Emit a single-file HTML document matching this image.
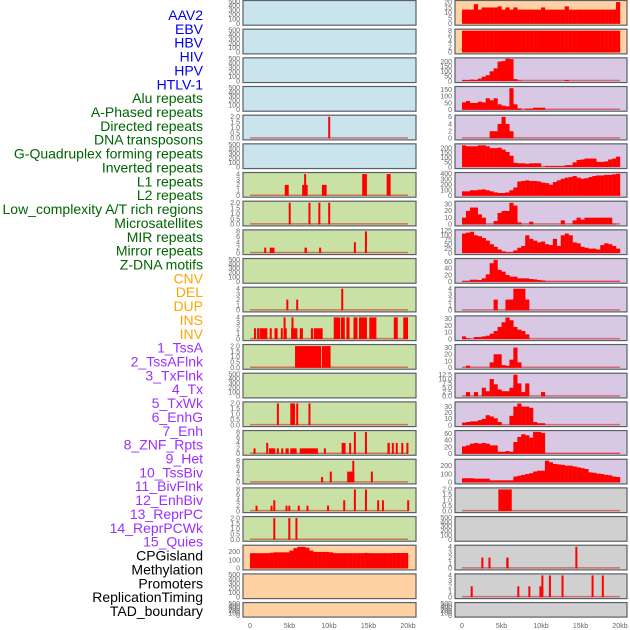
<!DOCTYPE html>
<html><head><meta charset="utf-8"><style>
html,body{margin:0;padding:0;background:#fff;}
svg{display:block;font-family:"Liberation Sans",sans-serif;}
</style></head><body>
<svg id="chart" width="630" height="630" viewBox="0 0 630 630" xmlns="http://www.w3.org/2000/svg"></svg>
<script>
// ---- category labels ----
const labelNames = ["AAV2","EBV","HBV","HIV","HPV","HTLV-1","Alu repeats","A-Phased repeats","Directed repeats","DNA transposons","G-Quadruplex forming repeats","Inverted repeats","L1 repeats","L2 repeats","Low_complexity A/T rich regions","Microsatellites","MIR repeats","Mirror repeats","Z-DNA motifs","CNV","DEL","DUP","INS","INV","1_TssA","2_TssAFlnk","3_TxFlnk","4_Tx","5_TxWk","6_EnhG","7_Enh","8_ZNF_Rpts","9_Het","10_TssBiv","11_BivFlnk","12_EnhBiv","13_ReprPC","14_ReprPCWk","15_Quies","CPGisland","Methylation","Promoters","ReplicationTiming","TAD_boundary"];
const labelGroups = [0,0,0,0,0,0,1,1,1,1,1,1,1,1,1,1,1,1,1,2,2,2,2,2,3,3,3,3,3,3,3,3,3,3,3,3,3,3,3,4,4,4,4,4];
const xTickLabels = ["0","5kb","10kb","15kb","20kb"];
const xTickValues = [0,5,10,15,20];
const emptyTicks = [0,100,200,300,400,500];

// ---- left column panels: sparse spikes [startKb,endKb,height] ----
const lSpk4 = [[9.9,10.1,2]];
const lSpk6 = [[4.4,4.9,2],[6.6,7.3,2],[6.85,7.0,4],[9.1,9.7,2],[14.2,14.8,4],[17.3,17.8,4]];
const lSpk7 = [[4.9,5.05,2],[7.4,7.6,2],[8.65,8.8,2],[9.9,10.1,2]];
const lSpk8 = [[1.8,1.95,2],[2.5,3.1,2],[6.9,7.2,2],[8.75,8.9,2],[13.15,13.3,4],[14.55,14.7,8]];
const lSpk10 = [[4.6,4.8,2],[5.85,6.0,2],[11.55,11.7,4]];
const lSpk11 = [[0.5,0.7,2],[0.9,1.1,2],[1.2,2.2,2],[2.5,2.7,2],[3.1,3.5,2],[3.9,4.1,2],[4.25,4.4,4],[4.4,4.6,2],[5.2,6.0,2],[5.25,5.45,4],[6.3,6.7,2],[7.7,8.0,2],[8.1,9.2,2],[10.6,11.4,4],[11.5,12.0,4],[12.2,12.6,4],[13.1,13.6,4],[13.8,14.8,4],[15.1,16.0,4],[18.2,18.7,4],[19.4,20.0,4]];
const lSpk12 = [[5.7,9.0,2],[9.1,10.2,2]];
const lSpk14 = [[3.4,3.6,2],[5.1,5.7,2],[5.85,6.0,2],[7.4,7.6,2]];
const lSpk15 = [[0.45,0.6,2],[2.05,2.2,4],[2.4,3.2,2],[3.4,3.6,2],[3.95,4.1,2],[4.5,4.9,2],[5.1,5.9,2],[6.3,8.6,2],[9.35,9.5,2],[11.6,12.1,4],[12.55,12.7,4],[13.15,13.3,8],[14.55,14.7,8],[17.4,17.7,4],[17.95,18.1,4],[18.45,18.65,4],[19.15,19.3,4],[19.8,19.95,4]];
const lSpk16 = [[9.0,9.25,2],[10.1,10.3,4],[12.3,13.2,4],[12.95,13.15,8],[15.3,15.45,4]];
const lSpk17 = [[0.7,0.85,2],[2.6,2.75,2],[2.95,3.1,4],[4.5,4.65,2],[4.85,5.0,2],[6.05,6.25,2],[7.15,7.3,2],[9.75,9.9,2],[11.8,12.0,4],[13.15,13.3,8],[14.55,14.7,8],[16.1,16.3,4],[16.7,16.85,4],[19.9,20.05,4]];
const lSpk18 = [[2.95,3.1,2],[4.85,5.0,2],[5.75,5.9,2]];
// CpG island density, 40 bins of 0.5kb
const lBin19 = [180,180,180,180,180,185,190,190,190,190,210,240,255,255,245,210,195,195,195,195,190,180,180,180,180,180,180,180,180,183,180,180,180,180,180,180,182,182,182,182];

// ---- right column panels: dense bins (0.5kb each) ----
const rBin0 = [13,13,13,18,13,15,15,15,15,16,13,15,13,15,13,13,13,13,13,13,15,13,13,13,13,13,16,13,13,13,13,13,13,13,13,13,13,13,13,20];
const rBin1 = [8,8,8,8,8,8,8,8,8,8,8,8,8,8,8,8,8,8,8,8,8,8,8,8,8,8,8,8,8,8,8,8,8,8,8,8,8,8,8,8];
const rBin2 = [10,10,15,12,25,45,60,100,130,200,205,230,225,20,5,0,0,0,0,0,0,0,0,0,0,0,10,0,0,0,0,0,0,0,0,0,0,0,0,0];
const rBin3 = [55,65,50,50,60,55,85,70,85,40,30,25,160,40,10,0,8,8,15,15,15,0,0,0,0,0,0,0,0,0,0,0,0,0,0,0,0,0,0,0];
const rBin4 = [0,0,0,0,0,0,0,2,2,4,6,4,2,0,0,0,0,0,0,0,0,0,0,0,0,0,0,0,0,0,0,0,0,0,0,0,0,0,0,0];
const rBin5 = [230,220,220,220,230,230,220,200,200,205,185,160,120,45,40,40,35,40,40,40,0,10,10,10,10,10,20,20,50,75,80,90,90,90,55,55,60,80,90,110];
const rBin6 = [80,80,100,100,110,115,100,80,60,50,50,60,100,150,260,270,280,270,270,260,240,230,200,250,280,310,330,340,360,330,310,320,340,360,370,370,380,380,390,400];
const rBin7 = [10,20,25,25,15,10,0,0,5,17,20,20,32,28,3,0,0,4,0,0,0,0,0,0,0,6,0,0,6,10,7,10,10,10,10,10,10,10,1,0];
const rBin8 = [110,115,120,100,95,85,70,50,35,20,10,5,5,15,30,40,100,80,70,60,65,50,45,80,40,100,110,100,60,55,35,30,25,25,20,45,55,50,40,25];
const rBin9 = [2,2,6,6,5,10,22,55,65,35,30,20,15,15,10,10,10,8,7,5,4,1,1,1,1,1,1,1,1,1,1,1,1,1,1,1,1,1,1,1];
const rBin10 = [0,0,0,0,0,0,0,0,2,0,0,2,2,4,4,4,2,0,0,0,0,0,0,0,0,0,0,0,0,0,0,0,0,0,0,0,0,0,0,0];
const rBin11 = [4,1,0,3,3,4,5,8,12,18,25,32,28,18,14,12,7,0,0,0,0,0,0,0,0,0,0,0,0,0,0,0,0,0,0,0,0,0,0,0];
const rBin12 = [0,3,0,0,0,0,0,8,20,20,4,3,12,30,8,0,0,0,0,0,0,0,0,0,0,0,0,0,0,0,0,0,0,0,0,0,0,0,0,0];
const rBin13 = [0,2.5,0,2.5,0,5,3,10,7,4,3,3,5,12.5,7.5,2.5,7.5,0,0,0,2.5,0,0,0,0,0,0,0,0,0,0,0,0,0,0,0,0,0,0];
const rBin14 = [4,5,6,6,8,10,16,14,11,5,0,0,15,30,35,30,30,28,5,3,3,0,0,0,0,0,0,0,0,0,0,0,0,0,0,0,0,0,0,0];
const rBin15 = [22,25,30,32,30,32,30,25,25,6,6,8,6,35,50,58,55,48,65,65,62,1,1,1,1,1,1,1,1,1,1,1,1,1,1,1,1,1,1,1];
const rBin16 = [50,50,50,45,45,45,45,25,25,25,25,25,25,70,80,90,100,110,130,140,140,260,240,220,215,210,200,200,190,180,170,160,120,115,105,100,90,85,70,65];
const rSpk17 = [[4.6,6.3,2]];
const rSpk19 = [[2.45,2.6,2],[3.35,3.5,2],[5.6,5.9,2],[14.35,14.5,4]];
const rSpk20 = [[1.1,1.3,2],[7.0,7.2,2],[8.4,8.6,2],[9.8,9.95,2],[10.05,10.25,4],[11.0,11.2,4],[12.6,12.8,4],[16.4,16.65,4],[17.7,17.95,4]];

// ---- panel configuration (axis ranges, backgrounds) ----
const leftBg = ["#c9e4ec","#c9e4ec","#c9e4ec","#c9e4ec","#c9e4ec","#c9e4ec","#c9e1a5","#c9e1a5","#c9e1a5","#c9e1a5","#c9e1a5","#c9e1a5","#c9e1a5","#c9e1a5","#c9e1a5","#c9e1a5","#c9e1a5","#c9e1a5","#c9e1a5","#ffd1a3","#ffd1a3","#ffd1a3"];
const rightBg = ["#ffd1a3","#ffd1a3","#d9c8e4","#d9c8e4","#d9c8e4","#d9c8e4","#d9c8e4","#d9c8e4","#d9c8e4","#d9c8e4","#d9c8e4","#d9c8e4","#d9c8e4","#d9c8e4","#d9c8e4","#d9c8e4","#d9c8e4","#d0d0d0","#d0d0d0","#d0d0d0","#d0d0d0","#d0d0d0"];
const t4 = [0,1,2,3,4], t2 = [0,0.5,1.0,1.5,2.0], t8 = [0,2,4,6,8];
const leftSpec = [
 {t:emptyTicks},{t:emptyTicks},{t:emptyTicks},{t:emptyTicks},
 {t:t2,max:2.05,spk:lSpk4,fmt:1},{t:emptyTicks},
 {t:t4,max:4.1,spk:lSpk6},{t:t2,max:2.05,spk:lSpk7,fmt:1},{t:t8,max:8.2,spk:lSpk8},
 {t:emptyTicks},{t:t4,max:4.1,spk:lSpk10},{t:t4,max:4.1,spk:lSpk11},
 {t:t2,max:2.05,spk:lSpk12,fmt:1},{t:emptyTicks},{t:t2,max:2.05,spk:lSpk14,fmt:1},
 {t:t8,max:8.2,spk:lSpk15},{t:t8,max:8.2,spk:lSpk16},{t:t8,max:8.2,spk:lSpk17},
 {t:t2,max:2.05,spk:lSpk18,fmt:1},{t:[0,100,200],max:262,bin:lBin19},
 {t:emptyTicks},{t:emptyTicks}
];
const rightSpec = [
 {t:[0,5,10,15,20],max:20.5,bin:rBin0},{t:t8,max:8.2,bin:rBin1},
 {t:[0,50,100,150,200],max:228,bin:rBin2},{t:[0,50,100,150],max:165,bin:rBin3},
 {t:[0,2,4,6],max:6.2,bin:rBin4},{t:[0,50,100,150,200],max:235,bin:rBin5},
 {t:[0,100,200,300,400],max:405,bin:rBin6},{t:[0,10,20,30],max:33,bin:rBin7},
 {t:[0,25,50,75,100,125],max:125,bin:rBin8},{t:[0,20,40,60],max:66,bin:rBin9},
 {t:t4,max:4.1,bin:rBin10},{t:[0,10,20,30],max:33,bin:rBin11},
 {t:[0,10,20,30],max:33,bin:rBin12},{t:[0,2.5,5,7.5,10,12.5],max:12.8,bin:rBin13,fmt:1},
 {t:[0,10,20,30],max:36,bin:rBin14},{t:[0,20,40,60],max:66,bin:rBin15},
 {t:[0,100,200],max:265,bin:rBin16},{t:t2,max:2.05,spk:rSpk17,fmt:1},
 {t:emptyTicks},{t:t4,max:4.1,spk:rSpk19},{t:t4,max:4.1,spk:rSpk20},{t:emptyTicks}
];

const NS = "http://www.w3.org/2000/svg";
const svg = document.getElementById("chart");
function mk(tag, attrs, parent){const e=document.createElementNS(NS,tag);for(const k in attrs)e.setAttribute(k,attrs[k]);(parent||svg).appendChild(e);return e;}

// labels
const groupColors = ["#0000ee","#006400","#ffa500","#9b30ff","#000000"];
labelNames.forEach((n,i)=>{
  const t = mk("text",{x:203,y:15+13.86*i+5,"text-anchor":"end","font-size":"14",fill:groupColors[labelGroups[i]]});
  
  
  t.textContent = n;
});

function panelTop(i){return i*28.67;}
function panelH(i){return i===21?14.5:24.7;}

function drawPanel(col, i, spec, bg){
  const px = col===0?243:455, pw = col===0?173:172;
  const x0 = col===0?250:462;
  const xs = kb => x0 + kb/20*158;
  const top = panelTop(i), h = panelH(i);
  const g = mk("g",{});
  
  
  const r = mk("rect",{x:px,y:top+0.5,width:pw,height:h,fill:bg,stroke:"#5a6068","stroke-width":"1.2"},g);
  
  
  const yB = top+h-1, yT = top+1.5;
  const maxV = spec.max || 500;
  const ys = v => yB - v/maxV*(yB-yT);
  spec.t.forEach(v=>{
    const tt = mk("text",{x:px-3,y:ys(v)+2.3,"text-anchor":"end","font-size":"7",fill:"#666"},g);
    
    
    tt.textContent = spec.fmt ? (Number.isInteger(v)&&spec.t.some(x=>!Number.isInteger(x))? v.toFixed(1):String(v)) : String(v);
  });
  if(spec.spk || spec.bin){
    const bl = mk("line",{x1:xs(0),x2:xs(20),y1:yB-0.5,y2:yB-0.5,stroke:"rgba(200,30,30,0.55)","stroke-width":"1.5"},g);
    
    
  }
  if(spec.bin){
    spec.bin.forEach((v,k)=>{
      if(v<=0) return;
      const b = mk("rect",{x:xs(k*0.5),y:ys(v),width:xs((k+1)*0.5)-xs(k*0.5)+0.2,height:yB-ys(v),fill:"#ff0000"},g);
      
      
    });
  }
  if(spec.spk){
    spec.spk.forEach(s=>{
      const w = Math.max(2, xs(s[1])-xs(s[0]));
      const b = mk("rect",{x:xs(s[0]),y:ys(s[2]),width:w,height:yB-ys(s[2]),fill:"#ff0000"},g);
      
      
    });
  }
}
leftSpec.forEach((s,i)=>drawPanel(0,i,s,leftBg[i]));
rightSpec.forEach((s,i)=>drawPanel(1,i,s,rightBg[i]));

// x axes
[250,462].forEach(x0=>{
  xTickValues.forEach((v,k)=>{
    const t = mk("text",{x:x0+v/20*158,y:628,"text-anchor":"middle","font-size":"7",fill:"#666"});
    
    
    t.textContent = xTickLabels[k];
  });
});
</script>
</body></html>
